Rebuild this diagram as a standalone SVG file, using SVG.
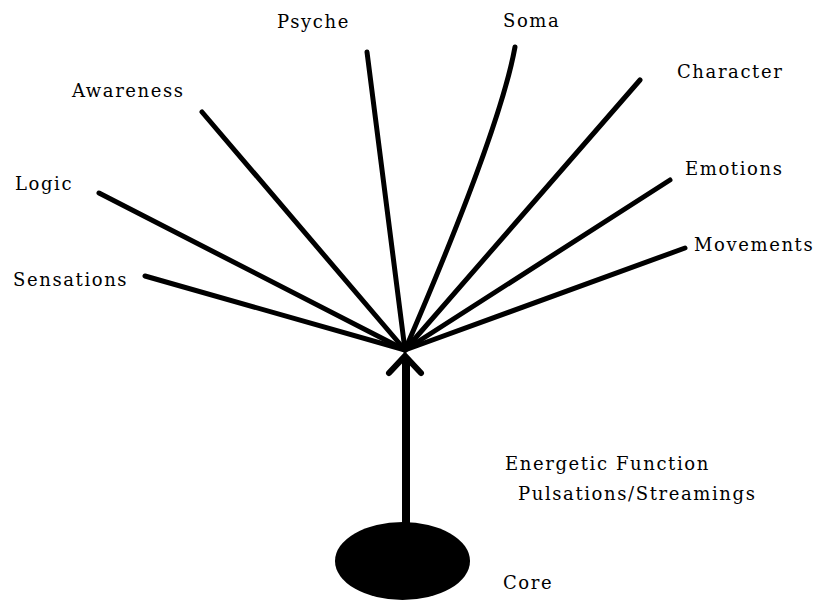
<svg xmlns="http://www.w3.org/2000/svg" width="824" height="601" viewBox="0 0 824 601">
<style>
.lbl{font-family:"DejaVu Serif","Liberation Serif",serif;font-size:18px;fill:#000;letter-spacing:1.6px}
.ray{stroke:#000;stroke-width:5;fill:none;stroke-linecap:round}
</style>
<rect width="824" height="601" fill="#fff"/>
<g id="connectors">
<line class="ray" x1="367" y1="52" x2="405" y2="350"/>
<path class="ray" d="M515,47 Q500,130 405,350"/>
<line class="ray" x1="202" y1="112" x2="405" y2="350"/>
<line class="ray" x1="99" y1="193" x2="405" y2="350"/>
<line class="ray" x1="145" y1="276" x2="405" y2="350"/>
<line class="ray" x1="640" y1="80" x2="405" y2="350"/>
<line class="ray" x1="670" y1="180" x2="405" y2="350"/>
<line class="ray" x1="685" y1="248" x2="405" y2="350"/>
<line x1="406" y1="358" x2="406" y2="525" stroke="#000" stroke-width="8"/>
<polyline points="389,373 405,356 421,373" fill="none" stroke="#000" stroke-width="6" stroke-linecap="round" stroke-linejoin="miter"/>
</g>
<g id="core"><ellipse cx="402.5" cy="561" rx="67.5" ry="39" fill="#000"/><text class="lbl" x="503" y="589">Core</text></g>
<g id="psyche"><text class="lbl" x="277" y="28">Psyche</text></g>
<g id="soma"><text class="lbl" x="503" y="27">Soma</text></g>
<g id="awareness"><text class="lbl" x="72" y="97">Awareness</text></g>
<g id="character"><text class="lbl" x="677" y="78">Character</text></g>
<g id="logic"><text class="lbl" x="15" y="190">Logic</text></g>
<g id="emotions"><text class="lbl" x="685" y="175">Emotions</text></g>
<g id="sensations"><text class="lbl" x="13" y="286">Sensations</text></g>
<g id="movements"><text class="lbl" x="694" y="251">Movements</text></g>
<g id="energetic"><text class="lbl" x="505" y="470">Energetic Function</text><text class="lbl" x="518" y="500">Pulsations/Streamings</text></g>
</svg>
